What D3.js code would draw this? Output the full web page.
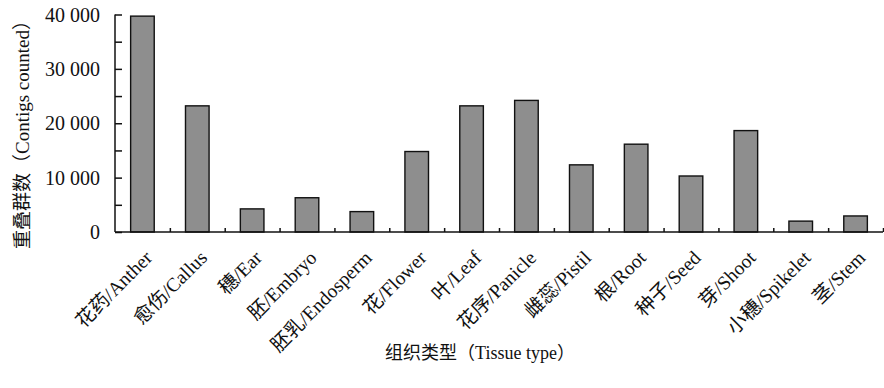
<!DOCTYPE html>
<html><head><meta charset="utf-8">
<script src="https://cdn.jsdelivr.net/npm/d3@7"></script>
<style>body{margin:0;background:#fff}svg{display:block}text{font-family:"Liberation Serif","Noto Sans CJK SC",serif;fill:#111}</style>
</head><body>
<svg id="c" width="884" height="388"></svg>
<script>
const categories = ["花药/Anther","愈伤/Callus","穗/Ear","胚/Embryo","胚乳/Endosperm","花/Flower","叶/Leaf","花序/Panicle","雌蕊/Pistil","根/Root","种子/Seed","芽/Shoot","小穗/Spikelet","茎/Stem"];
const values = [39700,23200,4250,6300,3750,14800,23200,24200,12350,16150,10300,18650,2000,2950];
const yTicks = [0,10000,20000,30000,40000];
const yMinorTicks = [0,5000,10000,15000,20000,25000,30000,35000,40000];
const yTitleParts = ["重叠群数（", "Contigs counted", "）"];
const xTitle = "组织类型（Tissue type）";

const svg = d3.select("#c");
const m = {l:115, r:883, t:14.5, b:232};
const x = d3.scaleBand().domain(categories).range([m.l, m.r]).paddingInner(0.57).paddingOuter(0.285);
const xb = d3.scaleLinear().domain([0, categories.length]).range([m.l, m.r]);
const y = d3.scaleLinear().domain([0,40000]).range([m.b, m.t]);

// bars
svg.append("g").selectAll("rect").data(values).join("rect")
  .attr("x",(d,i)=>x(categories[i])).attr("width",x.bandwidth())
  .attr("y",d=>y(d)).attr("height",d=>y(0)-y(d))
  .attr("fill","#8e8e8e").attr("stroke","#111").attr("stroke-width",1.4);

// y axis
const ya = svg.append("g").attr("transform",`translate(${m.l},0)`);
ya.call(d3.axisRight(y).tickValues(yMinorTicks).tickSize(7).tickFormat(""));
ya.selectAll("path,line").attr("stroke","#111").attr("stroke-width",1.5);
ya.select(".domain").attr("d",`M0,${m.b}V${m.t}`);
svg.append("g").selectAll("text").data(yTicks).join("text")
  .attr("x",100).attr("y",d=>y(d)+7).attr("text-anchor","end").attr("fill","#111")
  .attr("font-size",20).text(d=>d===0?"0":d3.format(",")(d).replace(/,/g," "));

// x axis
const xa = svg.append("g").attr("transform",`translate(0,${m.b})`);
xa.call(d3.axisTop(xb).tickValues(d3.range(1, categories.length+1)).tickSize(4).tickFormat(""));
xa.selectAll("path,line").attr("stroke","#111").attr("stroke-width",1.5);
xa.select(".domain").attr("d",`M${m.l},0H${m.r}`);

// x labels
svg.append("g").selectAll("text").data(categories).join("text")
  .attr("text-anchor","end").attr("font-size",19.5).attr("fill","#111")
  .attr("transform",d=>`translate(${x(d)+x.bandwidth()/2+11},${m.b+27}) rotate(-45)`)
  .text(d=>d);

// titles
const yt = svg.append("text").attr("transform",`translate(22,130) rotate(-90)`).attr("text-anchor","middle")
  .attr("dy","0.35em").attr("font-size",19).attr("fill","#111");
yt.selectAll("tspan").data(yTitleParts).join("tspan")
  .style("font-family",(d,i)=>i===1?"'Liberation Serif'":null).text(d=>d);
svg.append("text").attr("x",480).attr("y",359).attr("text-anchor","middle").attr("font-size",18).attr("fill","#111").text(xTitle);
</script>
</body></html>
